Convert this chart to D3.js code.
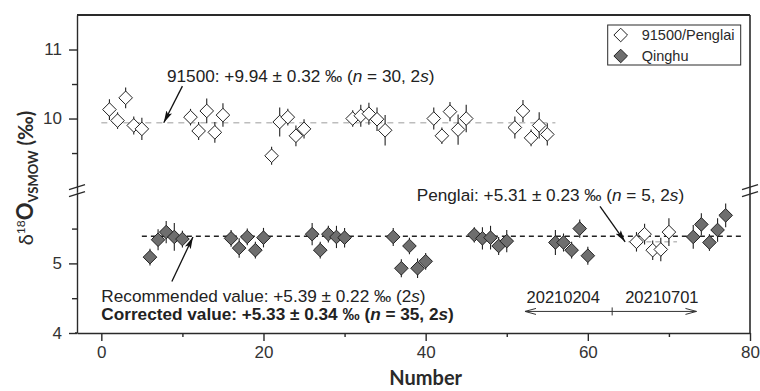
<!DOCTYPE html>
<html>
<head>
<meta charset="utf-8">
<script src="https://cdnjs.cloudflare.com/ajax/libs/d3/7.8.5/d3.min.js"></script>
<style>
  body { margin: 0; background: #fff; }
  #chart { width: 760px; height: 391px; }
  .axis text { font-family: "Liberation Sans", Arial, sans-serif; font-size: 17px; fill: #333; }
  .axis path, .axis line { stroke: #2a2a2a; stroke-width: 1.4px; }
  .note { font-family: "Liberation Sans", Arial, sans-serif; font-size: 17.2px; fill: #222; }
  .date { font-family: "Liberation Sans", Arial, sans-serif; font-size: 16.5px; fill: #222; }
  .legend text { font-family: "Liberation Sans", Arial, sans-serif; font-size: 14.5px; fill: #2a2a2a; }
  .title { font-family: Lato, "Open Sans", sans-serif; font-weight: 700; fill: #2a2a2a; }
</style>
</head>
<body>
<div id="chart"></div>
<script>
// 91500 zircon (open diamonds, upper panel)
var x91500 = [1, 2, 3, 4, 5, 11, 12, 13, 14, 15, 21, 22, 23, 24, 25, 31, 32, 33, 34, 35, 41, 42, 43, 44, 45, 51, 52, 53, 54, 55];
var y91500 = [10.13, 9.97, 10.30, 9.90, 9.85, 10.02, 9.82, 10.11, 9.80, 10.05, 9.46, 9.95, 10.02, 9.75, 9.85,
              10.00, 10.04, 10.07, 9.99, 9.83, 10.00, 9.75, 10.10, 9.84, 10.00, 9.87, 10.11, 9.72, 9.90, 9.77];
var e91500 = [0.15, 0.12, 0.15, 0.13, 0.16, 0.12, 0.13, 0.18, 0.15, 0.17, 0.13, 0.21, 0.12, 0.15, 0.14,
              0.12, 0.16, 0.16, 0.17, 0.22, 0.16, 0.12, 0.14, 0.22, 0.20, 0.16, 0.16, 0.12, 0.19, 0.16];

// Qinghu (filled diamonds, lower panel)
var xQinghu = [6, 7, 8, 9, 10, 16, 17, 18, 19, 20, 26, 27, 28, 29, 30, 36, 37, 38, 39, 40,
               46, 47, 48, 49, 50, 56, 57, 58, 59, 60, 73, 74, 75, 76, 77];
var yQinghu = [5.09, 5.34, 5.45, 5.38, 5.35, 5.36, 5.22, 5.38, 5.19, 5.37, 5.42, 5.19, 5.42, 5.38, 5.37,
               5.38, 4.93, 5.25, 4.93, 5.03, 5.41, 5.36, 5.37, 5.25, 5.32, 5.30, 5.30, 5.19, 5.50, 5.11,
               5.38, 5.56, 5.30, 5.48, 5.69];
var eQinghu = [0.12, 0.15, 0.16, 0.20, 0.12, 0.12, 0.14, 0.12, 0.12, 0.14, 0.16, 0.12, 0.12, 0.16, 0.14,
               0.13, 0.13, 0.12, 0.14, 0.12, 0.11, 0.16, 0.17, 0.13, 0.16, 0.18, 0.13, 0.12, 0.13, 0.13,
               0.17, 0.16, 0.12, 0.17, 0.17];

// Penglai (open diamonds, lower panel)
var xPenglai = [66, 67, 68, 69, 70];
var yPenglai = [5.31, 5.42, 5.19, 5.20, 5.45];
var ePenglai = [0.14, 0.15, 0.14, 0.17, 0.20];

var xMajorTicks = [0, 20, 40, 60, 80];
var xMinorTicks = [10, 30, 50, 70];
var yUpMajor = [10, 11], yUpMinor = [9.5, 10.5];
var yLoMajor = [4, 5], yLoMinor = [4.5, 5.5];

var legendLabels = ["91500/Penglai", "Qinghu"];

var margin = {top: 15, right: 10, bottom: 58, left: 77};
var width = 760 - margin.left - margin.right;
var height = 391 - margin.top - margin.bottom;
var breakY = 176.7;

var svgRoot = d3.select("#chart").append("svg")
    .attr("width", 760)
    .attr("height", 391);
var svg = svgRoot.append("g")
    .attr("transform", "translate(" + margin.left + "," + margin.top + ")");

var defs = svgRoot.append("defs");
defs.append("marker")
    .attr("id", "headFilled")
    .attr("markerUnits", "userSpaceOnUse")
    .attr("viewBox", "0 -4 12 8")
    .attr("refX", 12).attr("refY", 0)
    .attr("markerWidth", 12).attr("markerHeight", 8)
    .attr("orient", "auto")
    .append("path")
    .attr("d", "M0,-3.2L12,0L0,3.2L2.5,0Z")
    .attr("fill", "#111");
defs.append("marker")
    .attr("id", "headOpen")
    .attr("markerUnits", "userSpaceOnUse")
    .attr("viewBox", "-1 -4 13 8")
    .attr("refX", 11).attr("refY", 0)
    .attr("markerWidth", 13).attr("markerHeight", 8)
    .attr("orient", "auto-start-reverse")
    .append("path")
    .attr("d", "M0,-3L11,0L0,3")
    .attr("fill", "none")
    .attr("stroke", "#333")
    .attr("stroke-width", 1);

var xScale = d3.scaleLinear().domain([-3, 80]).range([0, width]);
var yUp = d3.scaleLinear().domain([8.94, 11.5]).range([breakY, 0]);
var yLo = d3.scaleLinear().domain([4, 6.03]).range([height, breakY]);

// reference lines
svg.append("line")
    .attr("x1", xScale(0)).attr("x2", xScale(56))
    .attr("y1", yUp(9.94)).attr("y2", yUp(9.94))
    .attr("stroke", "#bdbdbd").attr("stroke-width", 1.6)
    .style("stroke-dasharray", ("6, 5"));
svg.append("line")
    .attr("x1", xScale(5)).attr("x2", xScale(79))
    .attr("y1", yLo(5.39)).attr("y2", yLo(5.39))
    .attr("stroke", "#222").attr("stroke-width", 1.6)
    .style("stroke-dasharray", ("5, 4"));
svg.append("line")
    .attr("x1", xScale(65)).attr("x2", xScale(71))
    .attr("y1", yLo(5.31)).attr("y2", yLo(5.31))
    .attr("stroke", "#bdbdbd").attr("stroke-width", 1.6)
    .style("stroke-dasharray", ("5, 4"));

function diamond(r) {
    return "M0," + (-r) + "L" + r + ",0L0," + r + "L" + (-r) + ",0Z";
}

function drawSeries(xs, ys, es, yScale, fill) {
    var pts = xs.map(function (x, i) { return {x: x, y: ys[i], e: es[i]}; });
    var g = svg.append("g");
    g.selectAll(".err").data(pts).enter().append("line")
        .attr("x1", function (d) { return xScale(d.x); })
        .attr("x2", function (d) { return xScale(d.x); })
        .attr("y1", function (d) { return yScale(d.y - d.e); })
        .attr("y2", function (d) { return yScale(d.y + d.e); })
        .attr("stroke", "#222").attr("stroke-width", 1.1);
    g.selectAll(".pt").data(pts).enter().append("path")
        .attr("d", diamond(6.8))
        .attr("transform", function (d) { return "translate(" + xScale(d.x) + "," + yScale(d.y) + ")"; })
        .attr("fill", fill)
        .attr("stroke", "#222").attr("stroke-width", 1);
}

drawSeries(x91500, y91500, e91500, yUp, "#fff");
drawSeries(xQinghu, yQinghu, eQinghu, yLo, "#6e6e6e");
drawSeries(xPenglai, yPenglai, ePenglai, yLo, "#fff");

// axes
var xAxisMajor = d3.axisBottom(xScale).tickValues(xMajorTicks).tickSize(8).tickSizeOuter(0).tickPadding(5);
var xAxisMinor = d3.axisBottom(xScale).tickValues(xMinorTicks).tickSize(4).tickFormat("");
var xG = svg.append("g").attr("class", "axis").attr("transform", "translate(0," + height + ")");
xG.append("g").call(xAxisMajor);
xG.append("g").call(xAxisMinor).select(".domain").remove();
xG.append("line").attr("x1", -2).attr("x2", 0).attr("y1", 0).attr("y2", 0);

var fmt = d3.format("d");
function yAxisPair(scale, major, minor) {
    var g = svg.append("g").attr("class", "axis");
    g.append("g").call(d3.axisLeft(scale).tickValues(major).tickSize(8).tickSizeOuter(0).tickPadding(7).tickFormat(fmt));
    g.append("g").call(d3.axisLeft(scale).tickValues(minor).tickSize(5).tickFormat("")).select(".domain").remove();
}
yAxisPair(yUp, yUpMajor, yUpMinor);
yAxisPair(yLo, yLoMajor, yLoMinor);

// frame: top and right
svg.append("line")
    .attr("x1", 0).attr("x2", width).attr("y1", 0).attr("y2", 0)
    .attr("stroke", "#2a2a2a").attr("stroke-width", 2.2);
svg.append("line")
    .attr("x1", width).attr("x2", width).attr("y1", 0).attr("y2", height)
    .attr("stroke", "#2a2a2a").attr("stroke-width", 1.6);

// axis break marks
[0, width].forEach(function (bx) {
    [-3.5, 3.5].forEach(function (off) {
        svg.append("line")
            .attr("x1", bx - 8).attr("x2", bx + 8)
            .attr("y1", breakY - 1 + off + 2.5).attr("y2", breakY - 1 + off - 2.5)
            .attr("stroke", "#2a2a2a").attr("stroke-width", 1.3);
    });
});

// annotations
var n1 = svg.append("text").attr("class", "note")
    .attr("x", xScale(8.1)).attr("y", yUp(10.53));
n1.append("tspan").text("91500: +9.94 \u00b1 0.32 \u2030 (");
n1.append("tspan").style("font-style", "italic").text("n");
n1.append("tspan").text(" = 30, 2");
n1.append("tspan").style("font-style", "italic").text("s");
n1.append("tspan").text(")");
svg.append("line")
    .attr("x1", xScale(10)).attr("y1", yUp(10.47))
    .attr("x2", xScale(7.7)).attr("y2", yUp(9.94))
    .attr("stroke", "#111").attr("stroke-width", 1.3)
    .attr("marker-end", "url(#headFilled)");

var n2 = svg.append("text").attr("class", "note")
    .attr("x", xScale(0)).attr("y", yLo(4.45));
n2.append("tspan").text("Recommended value: +5.39 \u00b1 0.22 \u2030 (2");
n2.append("tspan").style("font-style", "italic").text("s");
n2.append("tspan").text(")");
var n3 = svg.append("text").attr("class", "note")
    .attr("x", xScale(0)).attr("y", yLo(4.18))
    .style("font-weight", "bold");
n3.append("tspan").text("Corrected value: +5.33 \u00b1 0.34 \u2030 (");
n3.append("tspan").style("font-style", "italic").text("n");
n3.append("tspan").text(" = 35, 2");
n3.append("tspan").style("font-style", "italic").text("s");
n3.append("tspan").text(")");
svg.append("line")
    .attr("x1", xScale(8.7)).attr("y1", yLo(4.74))
    .attr("x2", xScale(11.3)).attr("y2", yLo(5.38))
    .attr("stroke", "#111").attr("stroke-width", 1.3)
    .attr("marker-end", "url(#headFilled)");

var n4 = svg.append("text").attr("class", "note")
    .attr("x", xScale(38.9)).attr("y", yLo(5.89));
n4.append("tspan").text("Penglai: +5.31 \u00b1 0.23 \u2030 (");
n4.append("tspan").style("font-style", "italic").text("n");
n4.append("tspan").text(" = 5, 2");
n4.append("tspan").style("font-style", "italic").text("s");
n4.append("tspan").text(")");
svg.append("line")
    .attr("x1", xScale(61.5)).attr("y1", yLo(5.82))
    .attr("x2", xScale(64.6)).attr("y2", yLo(5.31))
    .attr("stroke", "#111").attr("stroke-width", 1.3)
    .attr("marker-end", "url(#headFilled)");

// session range
svg.append("text").attr("class", "date")
    .attr("x", xScale(61.5)).attr("y", yLo(4.43))
    .attr("text-anchor", "end")
    .text("20210204");
svg.append("text").attr("class", "date")
    .attr("x", xScale(64.6)).attr("y", yLo(4.43))
    .text("20210701");
svg.append("line")
    .attr("x1", xScale(52.25)).attr("x2", xScale(73.4))
    .attr("y1", yLo(4.31)).attr("y2", yLo(4.31))
    .attr("stroke", "#333").attr("stroke-width", 1)
    .attr("marker-start", "url(#headOpen)")
    .attr("marker-end", "url(#headOpen)");
svg.append("line")
    .attr("x1", xScale(63)).attr("x2", xScale(63))
    .attr("y1", yLo(4.31) - 4).attr("y2", yLo(4.31) + 4)
    .attr("stroke", "#333").attr("stroke-width", 1);

// legend
var legend = svg.append("g").attr("class", "legend")
    .attr("transform", "translate(" + (width - 142.3) + ",10)");
legend.append("rect")
    .attr("width", 133).attr("height", 40)
    .attr("fill", "#fff").attr("stroke", "#2a2a2a").attr("stroke-width", 1);
var li = legend.selectAll(".item").data(legendLabels).enter().append("g")
    .attr("transform", function (d, i) { return "translate(0," + (10 + i * 21) + ")"; });
li.append("path")
    .attr("d", diamond(6.8))
    .attr("transform", "translate(13,0)")
    .attr("fill", function (d, i) { return i === 0 ? "#fff" : "#6e6e6e"; })
    .attr("stroke", "#222").attr("stroke-width", 1);
li.append("text")
    .attr("x", 34).attr("y", 5)
    .text(function (d) { return d; });

// axis titles
svg.append("text").attr("class", "title")
    .attr("x", xScale(40)).attr("y", height + 52)
    .attr("text-anchor", "middle")
    .style("font-size", "20px")
    .text("Number");

var yt = svg.append("text").attr("class", "title")
    .attr("transform", "translate(-44," + (height / 2 + 4) + ") rotate(-90)")
    .attr("text-anchor", "middle")
    .style("font-size", "20px");
yt.append("tspan").style("font-weight", "400").text("\u03b4");
yt.append("tspan").attr("dy", -8).style("font-size", "12px").style("font-weight", "400").text("18");
yt.append("tspan").attr("dy", 8).style("font-size", "22px").text("O");
yt.append("tspan").attr("dy", 5).style("font-size", "13px").text("VSMOW");
yt.append("tspan").attr("dy", -5).text(" (\u2030)");
</script>
</body>
</html>
